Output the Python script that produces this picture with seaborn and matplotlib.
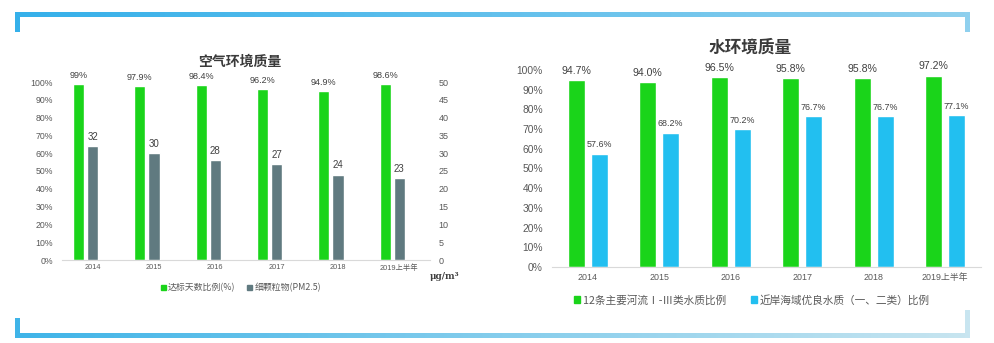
import numpy as np
import pandas as pd
import matplotlib
matplotlib.use("Agg")
import matplotlib.pyplot as plt
import matplotlib.patches as mpatches
from matplotlib.ticker import FuncFormatter, MultipleLocator
import seaborn as sns

# ---------------- data ----------------
years = ['2014', '2015', '2016', '2017', '2018', '2019上半年']
air_good_pct = [99, 97.9, 98.4, 96.2, 94.9, 98.6]      # 达标天数比例(%)
pm25 = [32, 30, 28, 27, 24, 23]                          # 细颗粒物(PM2.5) μg/m³
river_pct = [94.7, 94.0, 96.5, 95.8, 95.8, 97.2]         # 12条主要河流Ⅰ-Ⅲ类水质比例
coastal_pct = [57.6, 68.2, 70.2, 76.7, 76.7, 77.1]       # 近岸海域优良水质（一、二类）比例

air_labels = ['达标天数比例(%)', '细颗粒物(PM2.5)']
water_labels = ['12条主要河流Ⅰ-Ⅲ类水质比例', '近岸海域优良水质（一、二类）比例']

GREEN = '#1ad41a'
GREY = '#607a80'
CYAN = '#22bff0'
TICK = '#595959'
LABEL = '#404040'
BASE = '#d9d9d9'

sns.set_theme(style='white')
plt.rcParams['font.family'] = ['Liberation Sans', 'Noto Sans CJK SC', 'DejaVu Sans']

W, H = 995, 343
fig = plt.figure(figsize=(W / 100, H / 100), dpi=100)
fig.patch.set_facecolor('white')


def fx(px):
    return px / W


def fy(py):
    return (H - py) / H


# ---------------- decorative frame (pixel-space overlay) ----------------
deco = fig.add_axes([0, 0, 1, 1], zorder=-5)
deco.set_xlim(0, W)
deco.set_ylim(H, 0)
deco.axis('off')


def grad_bar(x0, x1, y0, y1, c0, c1):
    c0 = np.array(matplotlib.colors.to_rgb(c0))
    c1 = np.array(matplotlib.colors.to_rgb(c1))
    t = np.linspace(0, 1, 256)[None, :, None]
    img = c0 * (1 - t) + c1 * t
    deco.imshow(img, extent=(x0, x1, y1, y0), aspect='auto', interpolation='bilinear')


grad_bar(15, 970, 12, 17, '#35b0ea', '#8fd0ee')
grad_bar(15, 970, 333, 338, '#3fb4e8', '#c8e5f0')
deco.add_patch(mpatches.Rectangle((15, 12), 5, 20, color='#35b0ea', lw=0))
deco.add_patch(mpatches.Rectangle((965, 12), 5, 20, color='#8fd0ee', lw=0))
deco.add_patch(mpatches.Rectangle((15, 318), 5, 20, color='#3fb4e8', lw=0))
deco.add_patch(mpatches.Rectangle((965, 310), 5, 28, color='#c8e5f0', lw=0))
deco.set_xlim(0, W)
deco.set_ylim(H, 0)


def style_axes(ax):
    ax.set_facecolor('none')
    for s in ax.spines.values():
        s.set_visible(False)
    ax.spines['bottom'].set_visible(True)
    ax.spines['bottom'].set_color(BASE)
    ax.spines['bottom'].set_linewidth(0.8)
    ax.tick_params(length=0, colors=TICK)
    ax.set_xlabel('')
    ax.set_ylabel('')
    ax.grid(False)


pct_fmt = FuncFormatter(lambda v, p: f'{v:.0f}%')

# ---------------- left chart: air ----------------
ax1 = fig.add_axes([fx(62), fy(260), fx(430) - fx(62), fy(82) - fy(260)])
ax1b = ax1.twinx()

sns.barplot(x=years, y=air_good_pct, color=GREEN, saturation=1, width=0.18,
            errorbar=None, ax=ax1)
for p in ax1.patches:
    p.set_x(p.get_x() - 0.23)
sns.barplot(x=years, y=pm25, color=GREY, saturation=1, width=0.18,
            errorbar=None, ax=ax1b)

ax1.set_ylim(0, 100)
ax1.yaxis.set_major_locator(MultipleLocator(10))
ax1.yaxis.set_major_formatter(pct_fmt)
ax1b.set_ylim(0, 50)
ax1b.yaxis.set_major_locator(MultipleLocator(5))
ax1.set_xlim(-0.5, 5.5)
ax1b.set_xlim(-0.5, 5.5)
style_axes(ax1)
style_axes(ax1b)
ax1b.spines['bottom'].set_visible(False)
ax1.tick_params(axis='y', labelsize=6.3, pad=6.5)
ax1.tick_params(axis='x', labelsize=5.3, pad=3)
ax1b.tick_params(axis='y', labelsize=6.5, pad=6)
ax1b.tick_params(axis='x', labelsize=5.3, pad=3)

ax1.bar_label(ax1.containers[0], labels=[f'{v:g}%' for v in air_good_pct],
              padding=3, fontsize=6.5, color=LABEL)
ax1b.bar_label(ax1b.containers[0], labels=[f'{v:g}' for v in pm25],
               padding=3, fontsize=7, color=LABEL)

ax1.text(1.0, -0.09, 'μg/m³', transform=ax1.transAxes, ha='left', va='center',
         fontsize=6.5, color=LABEL, fontweight='bold', family=['DejaVu Serif'])

fig.text(fx(240), fy(62), '空气环境质量', ha='center', va='center', fontsize=10,
         fontweight='bold', color='#3a3a3a', family=['Noto Sans CJK SC'])

h_air = [mpatches.Patch(color=GREEN), mpatches.Patch(color=GREY)]
fig.legend(h_air, air_labels, loc='center', bbox_to_anchor=(fx(241), fy(288)), ncol=2,
           frameon=False, handlelength=0.55, handleheight=0.55, handletextpad=0.25,
           columnspacing=1.3, labelcolor=TICK,
           prop={'family': ['Noto Sans CJK SC'], 'size': 6.4})

# ---------------- right chart: water ----------------
ax2 = fig.add_axes([fx(552), fy(267), fx(981) - fx(552), fy(70) - fy(267)])
df_w = pd.DataFrame({
    'year': years * 2,
    'value': river_pct + coastal_pct,
    'series': [water_labels[0]] * len(years) + [water_labels[1]] * len(years),
})
sns.barplot(data=df_w, x='year', y='value', hue='series', hue_order=water_labels,
            palette=[GREEN, CYAN], saturation=1, width=0.64, gap=0.25,
            errorbar=None, legend=False, ax=ax2)
ax2.set_ylim(0, 100)
ax2.set_xlim(-0.5, 5.5)
ax2.yaxis.set_major_locator(MultipleLocator(10))
ax2.yaxis.set_major_formatter(pct_fmt)
style_axes(ax2)
ax2.tick_params(axis='y', labelsize=7.4, pad=6.5)
ax2.tick_params(axis='x', labelsize=6.4, pad=4)

ax2.bar_label(ax2.containers[0], labels=[f'{v:.1f}%' for v in river_pct],
              padding=3, fontsize=7.6, color=LABEL)
ax2.bar_label(ax2.containers[1], labels=[f'{v:.1f}%' for v in coastal_pct],
              padding=3, fontsize=6.4, color=LABEL)

fig.text(fx(750), fy(48), '水环境质量', ha='center', va='center', fontsize=12,
         fontweight='bold', color='#3a3a3a', family=['Noto Sans CJK SC'])

h_w = [mpatches.Patch(color=GREEN), mpatches.Patch(color=CYAN)]
fig.legend(h_w, water_labels, loc='center', bbox_to_anchor=(fx(752), fy(300)), ncol=2,
           frameon=False, handlelength=0.55, handleheight=0.55, handletextpad=0.25,
           columnspacing=2.4, labelcolor=TICK,
           prop={'family': ['Noto Sans CJK SC'], 'size': 7.7})

fig.savefig('out.png', dpi=100, facecolor='white')
